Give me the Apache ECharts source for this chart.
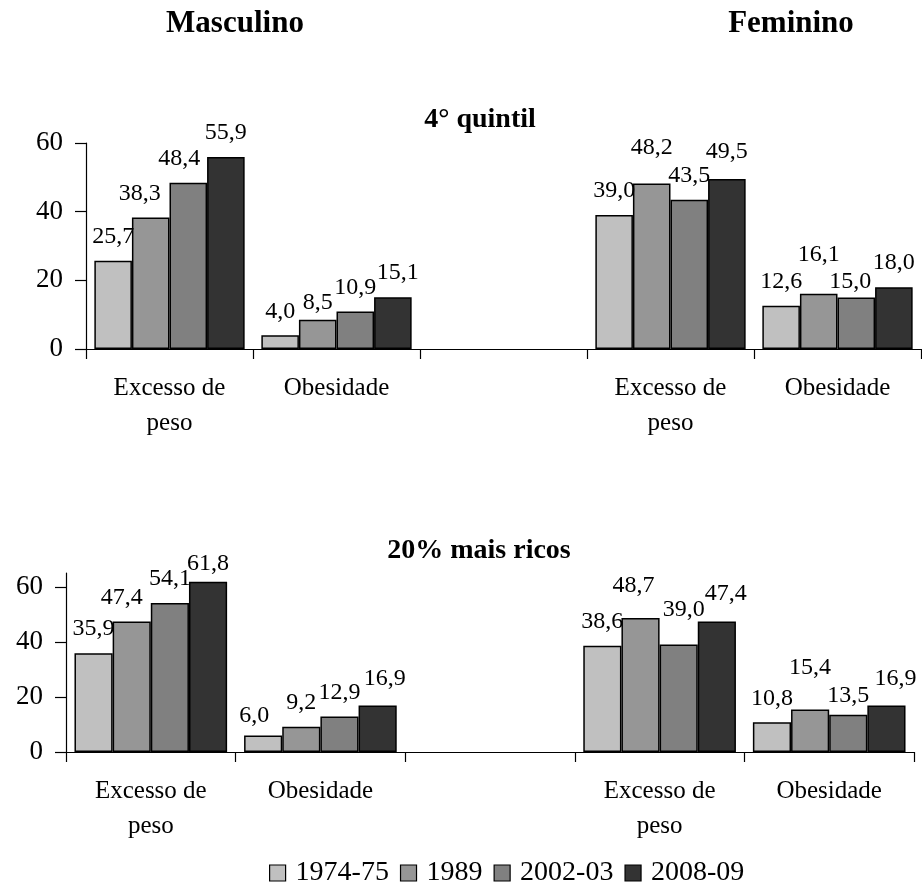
<!DOCTYPE html>
<html>
<head>
<meta charset="utf-8">
<script src="https://cdn.jsdelivr.net/npm/echarts@6/dist/echarts.min.js"></script>
<style>
  html, body { margin: 0; padding: 0; background: #ffffff; }
  #chart { width: 922px; height: 886px; }
</style>
</head>
<body>
<div id="chart"></div>
<script>
// Categories: male block, empty spacer, female block
const categories = ['Excesso de\npeso', 'Obesidade', '', 'Excesso de\npeso', 'Obesidade'];
const seriesNames = ['1974-75', '1989', '2002-03', '2008-09'];
const yTicks = [0, 20, 40, 60];

// 4° quintil
const q4_1974 = [25.7, 4.0, null, 39.0, 12.6];
const q4_1989 = [38.3, 8.5, null, 48.2, 16.1];
const q4_2002 = [48.4, 10.9, null, 43.5, 15.0];
const q4_2008 = [55.9, 15.1, null, 49.5, 18.0];

// 20% mais ricos
const r20_1974 = [35.9, 6.0, null, 38.6, 10.8];
const r20_1989 = [47.4, 9.2, null, 48.7, 15.4];
const r20_2002 = [54.1, 12.9, null, 39.0, 13.5];
const r20_2008 = [61.8, 16.9, null, 47.4, 16.9];

const panels = [
  [q4_1974, q4_1989, q4_2002, q4_2008],
  [r20_1974, r20_1989, r20_2002, r20_2008]
];

const barColors = ['#c0c0c0', '#969696', '#808080', '#333333'];
const FONT = '"Liberation Serif", "Times New Roman", serif';

// Hand-placed value labels: key "panel:series:category" -> [dx, dy]
const labelNudge = {
  '0:1:0': [-11, 0], '0:2:0': [-9, 0], '0:1:1': [0, 7], '0:3:1': [5, 0],
  '0:1:3': [0, -12], '0:3:3': [0, -3], '0:1:4': [0, -15], '0:2:4': [-6, 8],
  '1:1:0': [-10, 0], '1:3:0': [0, 6], '1:0:1': [-9, 4], '1:3:1': [7, -3],
  '1:1:3': [-7, -8], '1:2:3': [5, -11], '1:3:3': [9, -4],
  '1:1:4': [0, -18], '1:2:4': [0, 5], '1:3:4': [9, -3]
};

const fmt = v => v.toFixed(1).replace('.', ',');

const series = [];
panels.forEach((panel, p) => {
  panel.forEach((vals, s) => {
    series.push({
      name: seriesNames[s],
      type: 'bar',
      xAxisIndex: p,
      yAxisIndex: p,
      barGap: '0%',
      barCategoryGap: '10%',
      itemStyle: { color: barColors[s], borderColor: '#000', borderWidth: 1.5 },
      label: {
        show: true, position: 'top', distance: 12,
        fontFamily: FONT, fontSize: 24, color: '#000',
        formatter: prm => fmt(prm.value)
      },
      data: vals.map((v, c) => {
        if (v === null) return '-';
        const n = labelNudge[p + ':' + s + ':' + c];
        return n ? { value: v, label: { offset: n } } : v;
      })
    });
  });
});

function xAxisCfg(gridIndex) {
  return {
    type: 'category', gridIndex, data: categories,
    axisLine: { lineStyle: { color: '#000', width: 1.2 } },
    axisTick: { show: true, length: 10, lineStyle: { color: '#000', width: 1.2 } },
    axisLabel: {
      fontFamily: FONT, fontSize: 25, color: '#000', lineHeight: 35,
      margin: 22, interval: 0
    },
    splitLine: { show: false }
  };
}

function yAxisCfg(gridIndex, max) {
  return {
    type: 'value', gridIndex, min: 0, max, interval: 20,
    axisLine: { show: true, lineStyle: { color: '#000', width: 1.2 } },
    axisTick: { show: true, length: 11, customValues: yTicks, lineStyle: { color: '#000', width: 1.2 } },
    axisLabel: { fontFamily: FONT, fontSize: 27, color: '#000', margin: 23, customValues: yTicks },
    splitLine: { show: false }
  };
}

const chart = echarts.init(document.getElementById('chart'), null, { renderer: 'canvas' });
chart.setOption({
  animation: false,
  backgroundColor: '#ffffff',
  grid: [
    { left: 86, top: 143, width: 835, height: 206 },
    { left: 66, top: 573, width: 848, height: 179 }
  ],
  xAxis: [xAxisCfg(0), xAxisCfg(1)],
  yAxis: [yAxisCfg(0, 60), yAxisCfg(1, 65)],
  legend: {
    data: seriesNames,
    left: 264, top: 854,
    itemWidth: 16, itemHeight: 16, itemGap: 11,
    icon: 'rect',
    itemStyle: { borderColor: '#000', borderWidth: 1.2 },
    textStyle: { fontFamily: FONT, fontSize: 28, color: '#000', padding: [0, 0, 0, 5] }
  },
  graphic: [
    { type: 'text', x: 235, y: 24, style: { text: 'Masculino', font: 'bold 31px ' + FONT, fill: '#000', align: 'center', verticalAlign: 'middle' } },
    { type: 'text', x: 791, y: 24, style: { text: 'Feminino', font: 'bold 31px ' + FONT, fill: '#000', align: 'center', verticalAlign: 'middle' } },
    { type: 'text', x: 480, y: 120, style: { text: '4° quintil', font: 'bold 28px ' + FONT, fill: '#000', align: 'center', verticalAlign: 'middle' } },
    { type: 'text', x: 479, y: 551, style: { text: '20% mais ricos', font: 'bold 28px ' + FONT, fill: '#000', align: 'center', verticalAlign: 'middle' } }
  ],
  series
});
</script>
</body>
</html>
